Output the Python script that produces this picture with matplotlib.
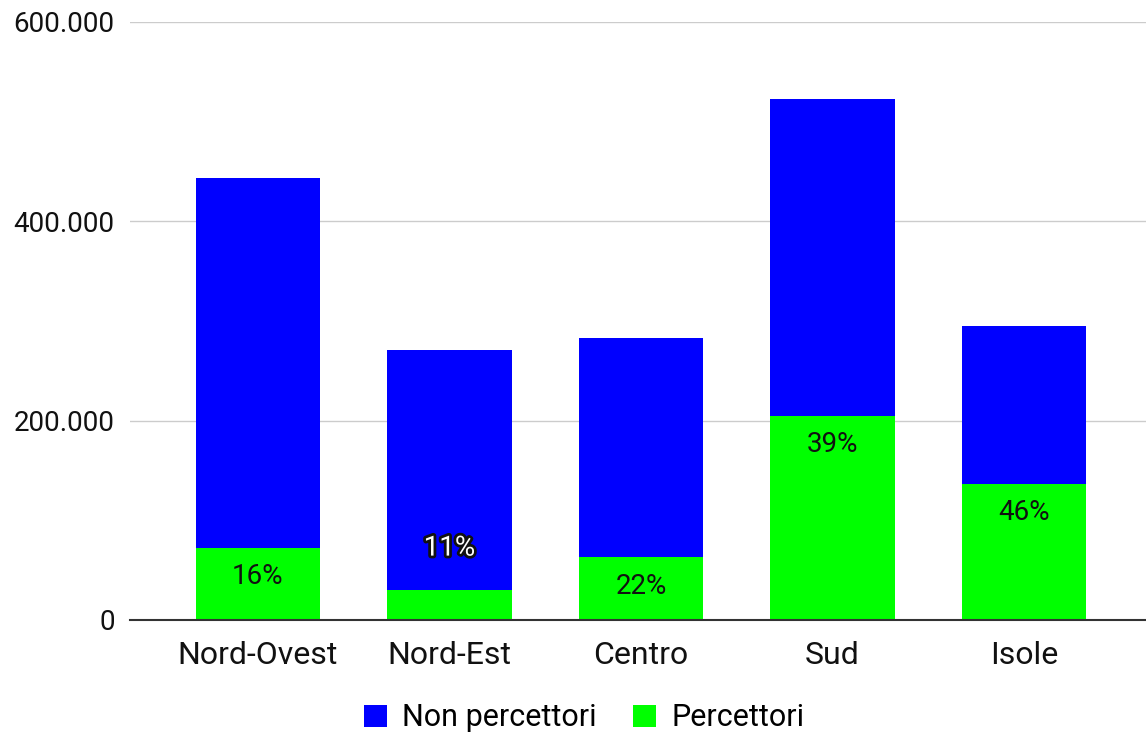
import matplotlib
matplotlib.use('Agg')
import matplotlib.pyplot as plt
import matplotlib.patheffects as pe
from matplotlib.ticker import FuncFormatter, MultipleLocator
import numpy as np

regioni = ['Nord-Ovest', 'Nord-Est', 'Centro', 'Sud', 'Isole']
percettori = [72500, 30000, 63000, 205000, 136500]
non_percettori = [370500, 241000, 220000, 318000, 158500]
quote = ['16%', '11%', '22%', '39%', '46%']

plt.rcParams['font.family'] = ['Roboto', 'DejaVu Sans']

fig = plt.figure(figsize=(11.46, 7.35), dpi=100)
ax = fig.add_axes([130 / 1146, 115 / 735, 1 - 130 / 1146, 598 / 735])

x = np.arange(len(regioni))
ax.bar(x, percettori, width=0.65, color='#00ff00', label='Percettori', zorder=2)
ax.bar(x, non_percettori, width=0.65, bottom=percettori, color='#0000ff',
       label='Non percettori', zorder=2)

for i, (v, q) in enumerate(zip(percettori, quote)):
    if v < 50000:
        ax.annotate(q, (i, v), xytext=(0, 42), textcoords='offset pixels',
                    ha='center', va='center', fontsize=20, color='white',
                    path_effects=[pe.withStroke(linewidth=4, foreground='#111111')], zorder=3)
    else:
        ax.annotate(q, (i, v), xytext=(0, -29), textcoords='offset pixels',
                    ha='center', va='center', fontsize=20, color='#111111', zorder=3)

ax.set_xlim(-0.668, 4.637)
ax.set_ylim(0, 600000)
ax.yaxis.set_major_locator(MultipleLocator(200000))
ax.yaxis.set_major_formatter(FuncFormatter(lambda v, p: f"{int(v):,}".replace(',', '.')))
ax.set_xticks(x)
ax.set_xticklabels(regioni)
ax.tick_params(axis='both', length=0, colors='#111111')
ax.tick_params(axis='y', pad=11, labelsize=20)
ax.tick_params(axis='x', pad=15, labelsize=23)
ax.grid(axis='y', color='#cccccc', linewidth=1, zorder=0)
for s in ['top', 'right', 'left']:
    ax.spines[s].set_visible(False)
ax.spines['bottom'].set_color('#333333')
ax.spines['bottom'].set_linewidth(1.5)
ax.spines['bottom'].set_zorder(3)

h, l = ax.get_legend_handles_labels()
fig.legend(h[::-1], l[::-1], loc='center', bbox_to_anchor=(584 / 1146, 1 - 718 / 735),
           ncol=2, frameon=False, fontsize=22, handlelength=0.75, handleheight=0.75,
           handletextpad=0.5, columnspacing=1.2)

plt.savefig('out.png', dpi=100)
plt.close()
